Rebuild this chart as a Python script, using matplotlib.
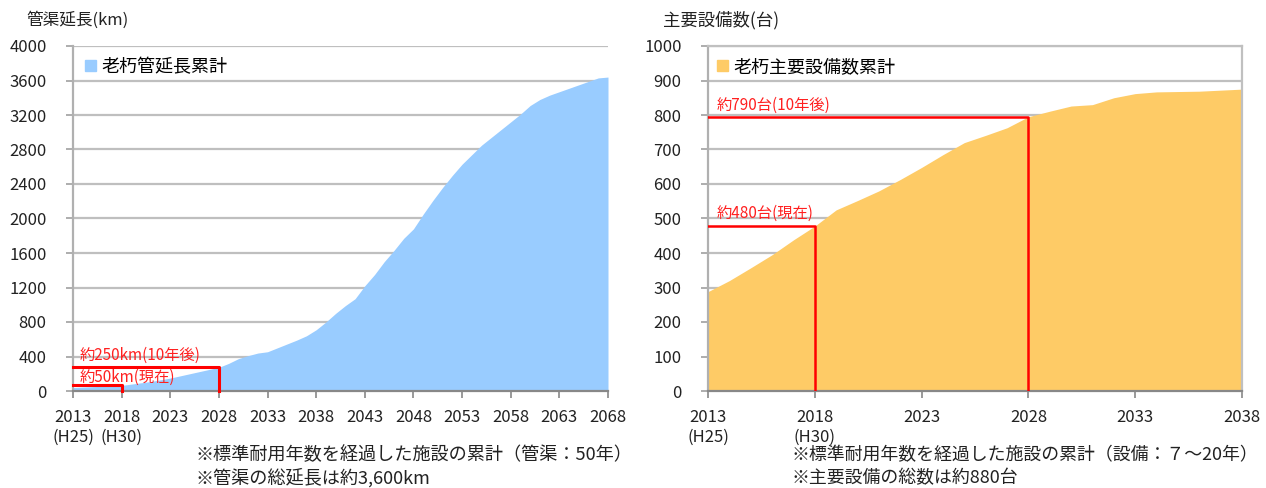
import numpy as np
import matplotlib
matplotlib.use("Agg")
from matplotlib import pyplot as plt
from matplotlib.patches import Patch

plt.rcParams['font.family'] = ['Noto Sans CJK JP', 'DejaVu Sans']

# left chart: cumulative length of aged pipes (km)
pipe_years = list(range(2013, 2069))
pipe_km = [40, 45, 50, 55, 60, 65, 80, 95, 110, 130,
           150, 175, 200, 225, 250, 275, 320, 375, 410, 440,
           455, 500, 545, 590, 640, 710, 800, 900, 990, 1070,
           1220, 1350, 1500, 1630, 1770, 1880, 2050, 2210, 2360, 2500,
           2630, 2740, 2850, 2940, 3030, 3120, 3210, 3310, 3380, 3430,
           3470, 3510, 3550, 3590, 3630, 3640]
pipe_ticks = list(range(2013, 2069, 5))
pipe_ticklabels = ['2013\n(H25)', '2018\n(H30)'] + [str(y) for y in pipe_ticks[2:]]

# right chart: cumulative number of aged main facilities
equip_years = list(range(2013, 2039))
equip_cnt = [288, 320, 357, 395, 438, 478, 525, 552, 580, 613,
             648, 685, 720, 741, 763, 795, 811, 826, 830, 850,
             862, 867, 868, 869, 872, 875]
equip_ticks = list(range(2013, 2039, 5))
equip_ticklabels = ['2013\n(H25)', '2018\n(H30)'] + [str(y) for y in equip_ticks[2:]]

mark_years = [2018, 2028]
pipe_marks = ['約50km(現在)', '約250km(10年後)']
equip_marks = ['約480台(現在)', '約790台(10年後)']

fig = plt.figure(figsize=(12.66, 4.88), dpi=100)
ax1 = fig.add_axes([73/1266, 97/488, 535/1266, 345/488])
ax2 = fig.add_axes([708/1266, 97/488, 534/1266, 345/488])


def style_axes(ax, ymax, ystep, xticks, xlabels, xmin, xmax):
    ax.set_xlim(xmin, xmax)
    ax.set_ylim(0, ymax)
    ax.set_yticks(np.arange(0, ymax + 1, ystep))
    ax.set_xticks(xticks)
    ax.set_xticklabels(xlabels)
    ax.yaxis.grid(True, color='#bfbfbf', lw=1.6)
    ax.set_axisbelow(True)
    ax.tick_params(axis='y', length=5, width=1.2, color='#a0a0a0', pad=14,
                   labelsize=12, labelcolor='#222222')
    ax.tick_params(axis='x', length=5, width=1.2, color='#888888', pad=8,
                   labelsize=12, labelcolor='#222222')
    ax.spines['left'].set_color('#b0b0b0')
    ax.spines['left'].set_linewidth(1.6)
    ax.spines['bottom'].set_color('#888888')
    ax.spines['bottom'].set_linewidth(1.6)


# left
ax1.fill_between(pipe_years, pipe_km, color='#99ccff', lw=0, zorder=2)
style_axes(ax1, 4000, 400, pipe_ticks, pipe_ticklabels, 2013, 2068)
ax1.spines['top'].set_visible(False)
ax1.spines['right'].set_visible(False)
for yr, lab, ty in zip(mark_years, pipe_marks, [162, 417]):
    v = pipe_km[pipe_years.index(yr)]
    ax1.plot([2013, yr, yr], [v, v, 0], color='red', lw=2.2, zorder=4, clip_on=False)
    ax1.text(2013.7, ty, lab, color='#ff2020', fontsize=11, va='center', zorder=5)
ax1.legend(handles=[Patch(color='#99ccff')], labels=['老朽管延長累計'],
           loc='upper left', bbox_to_anchor=(-0.008, 1.012), frameon=False,
           handlelength=0.6, handleheight=0.6, handletextpad=0.3, fontsize=13)

# right
ax2.fill_between(equip_years, equip_cnt, color='#fecb66', lw=0, zorder=2)
style_axes(ax2, 1000, 100, equip_ticks, equip_ticklabels, 2013, 2038)
for s in ['top', 'right']:
    ax2.spines[s].set_color('#c0c0c0')
    ax2.spines[s].set_linewidth(1.6)
for yr, lab, ty in zip(mark_years, equip_marks, [514, 828]):
    v = equip_cnt[equip_years.index(yr)]
    ax2.plot([2013, yr, yr], [v, v, 0], color='red', lw=1.8, zorder=4)
    ax2.text(2013.4, ty, lab, color='#ff2020', fontsize=11, va='center', zorder=5)
ax2.legend(handles=[Patch(color='#fecb66')], labels=['老朽主要設備数累計'],
           loc='upper left', bbox_to_anchor=(-0.014, 1.012), frameon=False,
           handlelength=0.6, handleheight=0.6, handletextpad=0.3, fontsize=13)

# titles and notes
fig.text(26/1266, 1 - 20/488, '管渠延長(km)', fontsize=12, va='center', color='#222222')
fig.text(663/1266, 1 - 20/488, '主要設備数(台)', fontsize=12.5, va='center', color='#222222')
fig.text(195/1266, 1 - 455/488, '※標準耐用年数を経過した施設の累計（管渠：50年）',
         fontsize=13.1, va='center', color='#222222')
fig.text(195/1266, 1 - 478/488, '※管渠の総延長は約3,600km',
         fontsize=13.1, va='center', color='#222222')
fig.text(792/1266, 1 - 455/488, '※標準耐用年数を経過した施設の累計（設備：７～20年）',
         fontsize=12.9, va='center', color='#222222')
fig.text(792/1266, 1 - 478/488, '※主要設備の総数は約880台',
         fontsize=12.9, va='center', color='#222222')

fig.savefig('out.png', dpi=100)
